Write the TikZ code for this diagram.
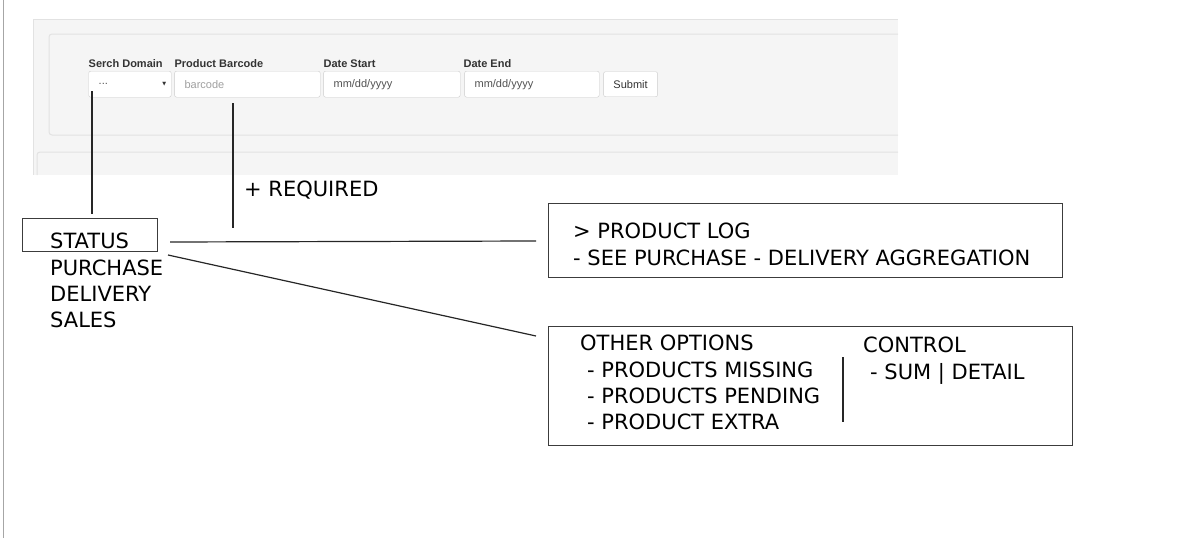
\documentclass[tikz,border=0pt]{standalone}
\usepackage{fontspec}
\setmainfont{DejaVu Sans}
\newfontfamily\uifont{Liberation Sans}
\usetikzlibrary{positioning,calc}
\definecolor{panelgray}{RGB}{245,245,245}
\definecolor{panelline}{RGB}{226,226,226}
\definecolor{fieldline}{RGB}{204,204,204}
\definecolor{fonttext}{RGB}{51,51,51}
\definecolor{hintgray}{RGB}{160,160,160}
\definecolor{inkgray}{RGB}{60,60,60}

\begin{document}
\begin{tikzpicture}[x=1pt, y=-1pt, node distance=3pt and 3pt,
		flabel/.style={inner sep=0pt, font=\uifont\fontsize{11}{13}\selectfont\bfseries, text=fonttext},
		field/.style={draw=fieldline, fill=white, rounded corners=2pt, minimum height=26pt, inner xsep=10pt, inner ysep=0pt, text width=#1, align=left, font=\uifont\fontsize{11}{13}\selectfont, text=fonttext!85},
		button/.style={draw=fieldline, fill=white, rounded corners=2pt, minimum height=25pt, minimum width=54pt, inner sep=0pt, font=\uifont\fontsize{11}{13}\selectfont, text=fonttext},
		sketch/.style={inner sep=0pt, font=\fontsize{21}{26.3}\selectfont, align=left, anchor=north west},
		sketchbox/.style={draw=inkgray, line width=1.2pt, inner sep=0pt, anchor=north west},
		wire/.style={line width=1.2pt, draw=black!85}
		]
		\useasboundingbox (0,0) rectangle (1194,538);
		\draw[gray!70, line width=1pt] (3.5,0) -- (3.5,538);
		
		% screenshot of the search form
		\fill[panelgray] (33,19) rectangle (898,175);
		\draw[panelline, line width=1pt] (33,175) -- (33,19) -- (898,19);
		\draw[panelline, line width=1pt, rounded corners=3pt] (898,34) -- (49,34) -- (49,135) -- (898,135);
		\draw[panelline, line width=1pt, rounded corners=3pt] (898,152) -- (37,152) -- (37,175);
		
		\node[field=62.5pt, anchor=north west] (sel) at (88.5,71) {...};
		\node[inner sep=0pt, font=\fontsize{5}{5}\selectfont, text=fonttext, left=5pt of sel.east] (selarrow) {▼};
		\node[field=125.6pt, right=of sel, text=hintgray] (bar) {barcode};
		\node[field=116.6pt, right=of bar] (start) {mm/dd/yyyy};
		\node[field=114.6pt, right=4pt of start] (end) {mm/dd/yyyy};
		\node[button, right=4pt of end] (submit) {Submit};
		
		\node[flabel, above right=3pt and 0pt of sel.north west] (sellabel) {Serch Domain};
		\node[flabel, above right=3pt and 0pt of bar.north west] (barlabel) {Product Barcode};
		\node[flabel, above right=3pt and 0pt of start.north west] (startlabel) {Date Start};
		\node[flabel, above right=3pt and -1pt of end.north west] (endlabel) {Date End};
		
		% hand drawn notes
		\node[sketchbox, minimum width=135pt, minimum height=33pt] (statusbox) at (22,218) {};
		\node[sketch] (domains) at (50,233) {STATUS\\PURCHASE\\DELIVERY\\SALES};
		\node[sketch] (required) at (244,181) {+ REQUIRED};
		
		\node[sketchbox, minimum width=514pt, minimum height=74pt] (prodlog) at (548,203) {};
		\node[sketch, below right=20pt and 25pt of prodlog.north west] (prodlogtext) {> PRODUCT LOG\\- SEE PURCHASE - DELIVERY AGGREGATION};
		
		\node[sketchbox, minimum width=524pt, minimum height=119pt] (options) at (548,326) {};
		\node[sketch, below right=9pt and 32pt of options.north west] (optionstext) {OTHER OPTIONS\\\hspace*{7pt}- PRODUCTS MISSING\\\hspace*{7pt}- PRODUCTS PENDING\\\hspace*{7pt}- PRODUCT EXTRA};
		\node[sketch, below right=11pt and 315pt of options.north west] (controltext) {CONTROL\\\hspace*{7pt}- SUM | DETAIL};
		\draw[wire] (843,357) -- (843,422);
		
		\coordinate (selpin) at (92,91);
		\coordinate (barpin) at (233,103);
		\coordinate (barend) at (233,228);
		\coordinate (logfrom) at (170,242);
		\coordinate (logto) at (536,241);
		\coordinate (optfrom) at (168,255);
		\coordinate (optto) at (536,336);
		
		\draw[wire] (selpin) -- ([yshift=4pt]selpin |- statusbox.north);
		\draw[wire] (barpin) -- (barend);
		\draw[wire] (logfrom) -- (logto);
		\draw[wire] (optfrom) -- (optto);
\end{tikzpicture}
\end{document}
